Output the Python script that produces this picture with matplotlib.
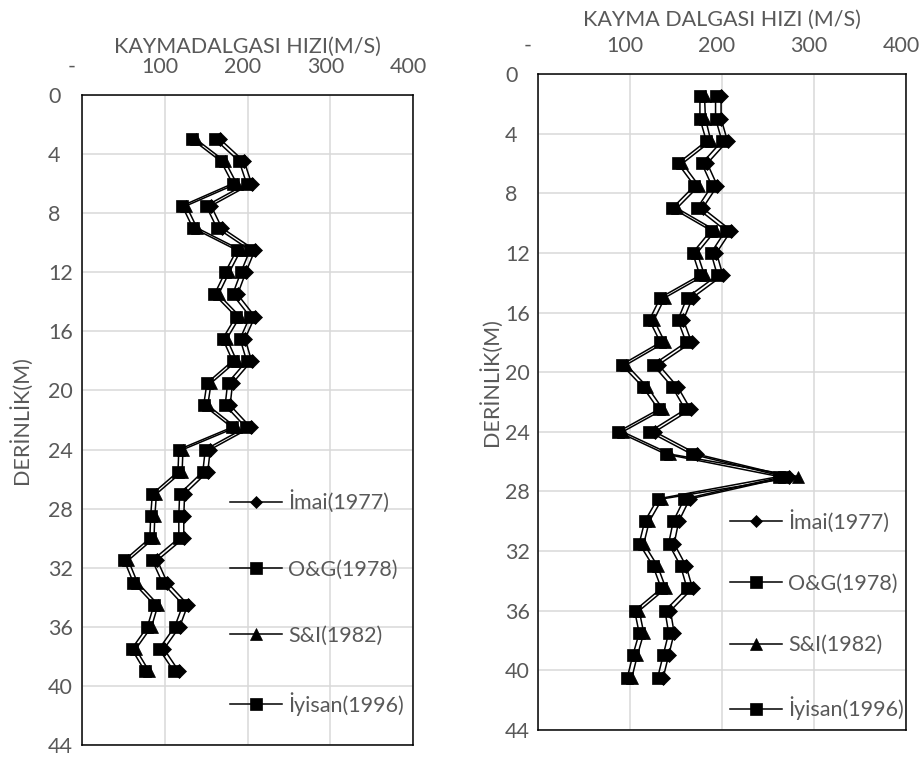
import matplotlib
matplotlib.use("Agg")
import matplotlib.pyplot as plt
from matplotlib.transforms import ScaledTranslation

plt.rcParams['font.family'] = ['Lato', 'DejaVu Sans']

W, H = 924, 761
TXT = '#595959'
GRID = '#d9d9d9'

series_names = ['İmai(1977)', 'O&G(1978)', 'S&I(1982)', 'İyisan(1996)']
series_markers = ['D', 's', '^', 's']
series_ms = [6.8, 9.2, 8.6, 9.2]

# Borehole 1: depth (m) and shear wave velocity (m/s)
depth_1 = [3, 4.5, 6, 7.5, 9, 10.5, 12, 13.5, 15, 16.5, 18, 19.5, 21, 22.5,
           24, 25.5, 27, 28.5, 30, 31.5, 33, 34.5, 36, 37.5, 39]
imai_1 = [167, 196, 205, 156, 169, 209, 198, 188, 209, 197, 205, 182, 179, 204,
          155, 152, 124, 123, 123, 91, 103, 128, 118, 99, 117]
og_1 = [161, 190, 199, 150, 163, 203, 192, 182, 203, 191, 199, 176, 173, 198,
        149, 146, 118, 117, 117, 85, 97, 122, 112, 93, 111]
si_1 = [138, 173, 187, 126, 139, 192, 178, 165, 191, 175, 187, 156, 152, 186,
        122, 121, 90, 88, 87, 56, 67, 92, 84, 65, 81]
iyisan_1 = [133, 168, 182, 121, 134, 187, 173, 160, 186, 170, 182, 151, 147, 181,
            117, 116, 85, 83, 82, 51, 62, 87, 79, 60, 76]

# Borehole 2
depth_2 = [1.5, 3, 4.5, 6, 7.5, 9, 10.5, 12, 13.5, 15, 16.5, 18, 19.5, 21,
           22.5, 24, 25.5, 27, 28.5, 30, 31.5, 33, 34.5, 36, 37.5, 39, 40.5]
imai_2 = [199, 199, 206, 184, 195, 179, 210, 194, 201, 168, 158, 167, 131, 152,
          166, 127, 173, 273, 165, 153, 148, 161, 168, 144, 148, 142, 136]
og_2 = [193, 193, 200, 178, 189, 173, 204, 188, 195, 162, 152, 161, 125, 146,
        160, 121, 167, 267, 159, 147, 142, 155, 162, 138, 142, 136, 130]
si_2 = [181, 182, 188, 157, 175, 151, 193, 173, 181, 138, 126, 138, 96, 119,
        136, 92, 144, 283, 135, 121, 115, 130, 139, 110, 115, 108, 102]
iyisan_2 = [176, 176, 183, 152, 170, 146, 188, 168, 176, 133, 121, 133, 91, 114,
            131, 87, 139, 262, 130, 116, 110, 125, 134, 105, 110, 103, 97]

x_ticks = [0, 100, 200, 300, 400]
x_ticklabels = ['-', '100', '200', '300', '400']
y_ticks = list(range(0, 45, 4))
y_ticklabels = [str(t) for t in y_ticks]

fig = plt.figure(figsize=(W / 100, H / 100), dpi=100)


def px_rect(x0, y0, x1, y1):
    return [x0 / W, 1 - y1 / H, (x1 - x0) / W, (y1 - y0) / H]


def draw_panel(rect, depth, vals, xlabel, xlabel_y, ylabel_xy, ytick_left,
               leg_xy, leg_spacing):
    ax = fig.add_axes(px_rect(*rect))
    for v, name, mk, ms in zip(vals, series_names, series_markers, series_ms):
        ax.plot(v, depth, color='black', lw=1.1, marker=mk, ms=ms,
                mfc='black', mec='black', mew=0.5, label=name, clip_on=False)
    ax.set_xlim(0, 400)
    ax.set_ylim(44, 0)
    ax.xaxis.tick_top()
    ax.set_xticks(x_ticks, labels=x_ticklabels)
    ax.set_yticks(y_ticks, labels=y_ticklabels, ha='left')
    ax.tick_params(axis='both', length=0, labelsize=15.5, colors=TXT)
    ax.tick_params(axis='x', pad=13)
    # depth labels are left-aligned, starting ytick_left pixels from the figure edge
    ax.tick_params(axis='y', pad=(rect[0] - ytick_left) * 0.72)
    for lab in ax.get_xticklabels():
        dx = -10 if lab.get_text() == '-' else -5
        lab.set_transform(lab.get_transform() + ScaledTranslation(dx / 100, 0, fig.dpi_scale_trans))
    ax.grid(True, color=GRID, lw=1.1)
    ax.set_axisbelow(True)
    for s in ax.spines.values():
        s.set_color('black')
        s.set_linewidth(1.1)
    fig.text((rect[0] + rect[2]) / 2 / W, 1 - xlabel_y / H, xlabel, ha='center',
             va='center', fontsize=15.5, color=TXT)
    fig.text(ylabel_xy[0] / W, 1 - ylabel_xy[1] / H, 'DERİNLİK(M)', rotation=90,
             ha='center', va='center', fontsize=15.5, color=TXT)
    leg = ax.legend(loc='center left', bbox_to_anchor=(leg_xy[0] / W, 1 - leg_xy[1] / H),
                    bbox_transform=fig.transFigure, frameon=False, fontsize=15.5,
                    handlelength=2.4, handletextpad=0.3, labelspacing=leg_spacing,
                    borderpad=0, borderaxespad=0, markerscale=0.95)
    for t in leg.get_texts():
        t.set_color(TXT)
    return ax


draw_panel((82, 95, 413, 745), depth_1, [imai_1, og_1, si_1, iyisan_1],
           'KAYMADALGASI HIZI(M/S)', 47, (20, 420), 48, (230, 603), 2.15)
draw_panel((538, 74, 906, 730), depth_2, [imai_2, og_2, si_2, iyisan_2],
           'KAYMA DALGASI HIZI (M/S)', 20, (490, 382), 505, (730, 615), 1.92)

fig.savefig('out.png', dpi=100)
